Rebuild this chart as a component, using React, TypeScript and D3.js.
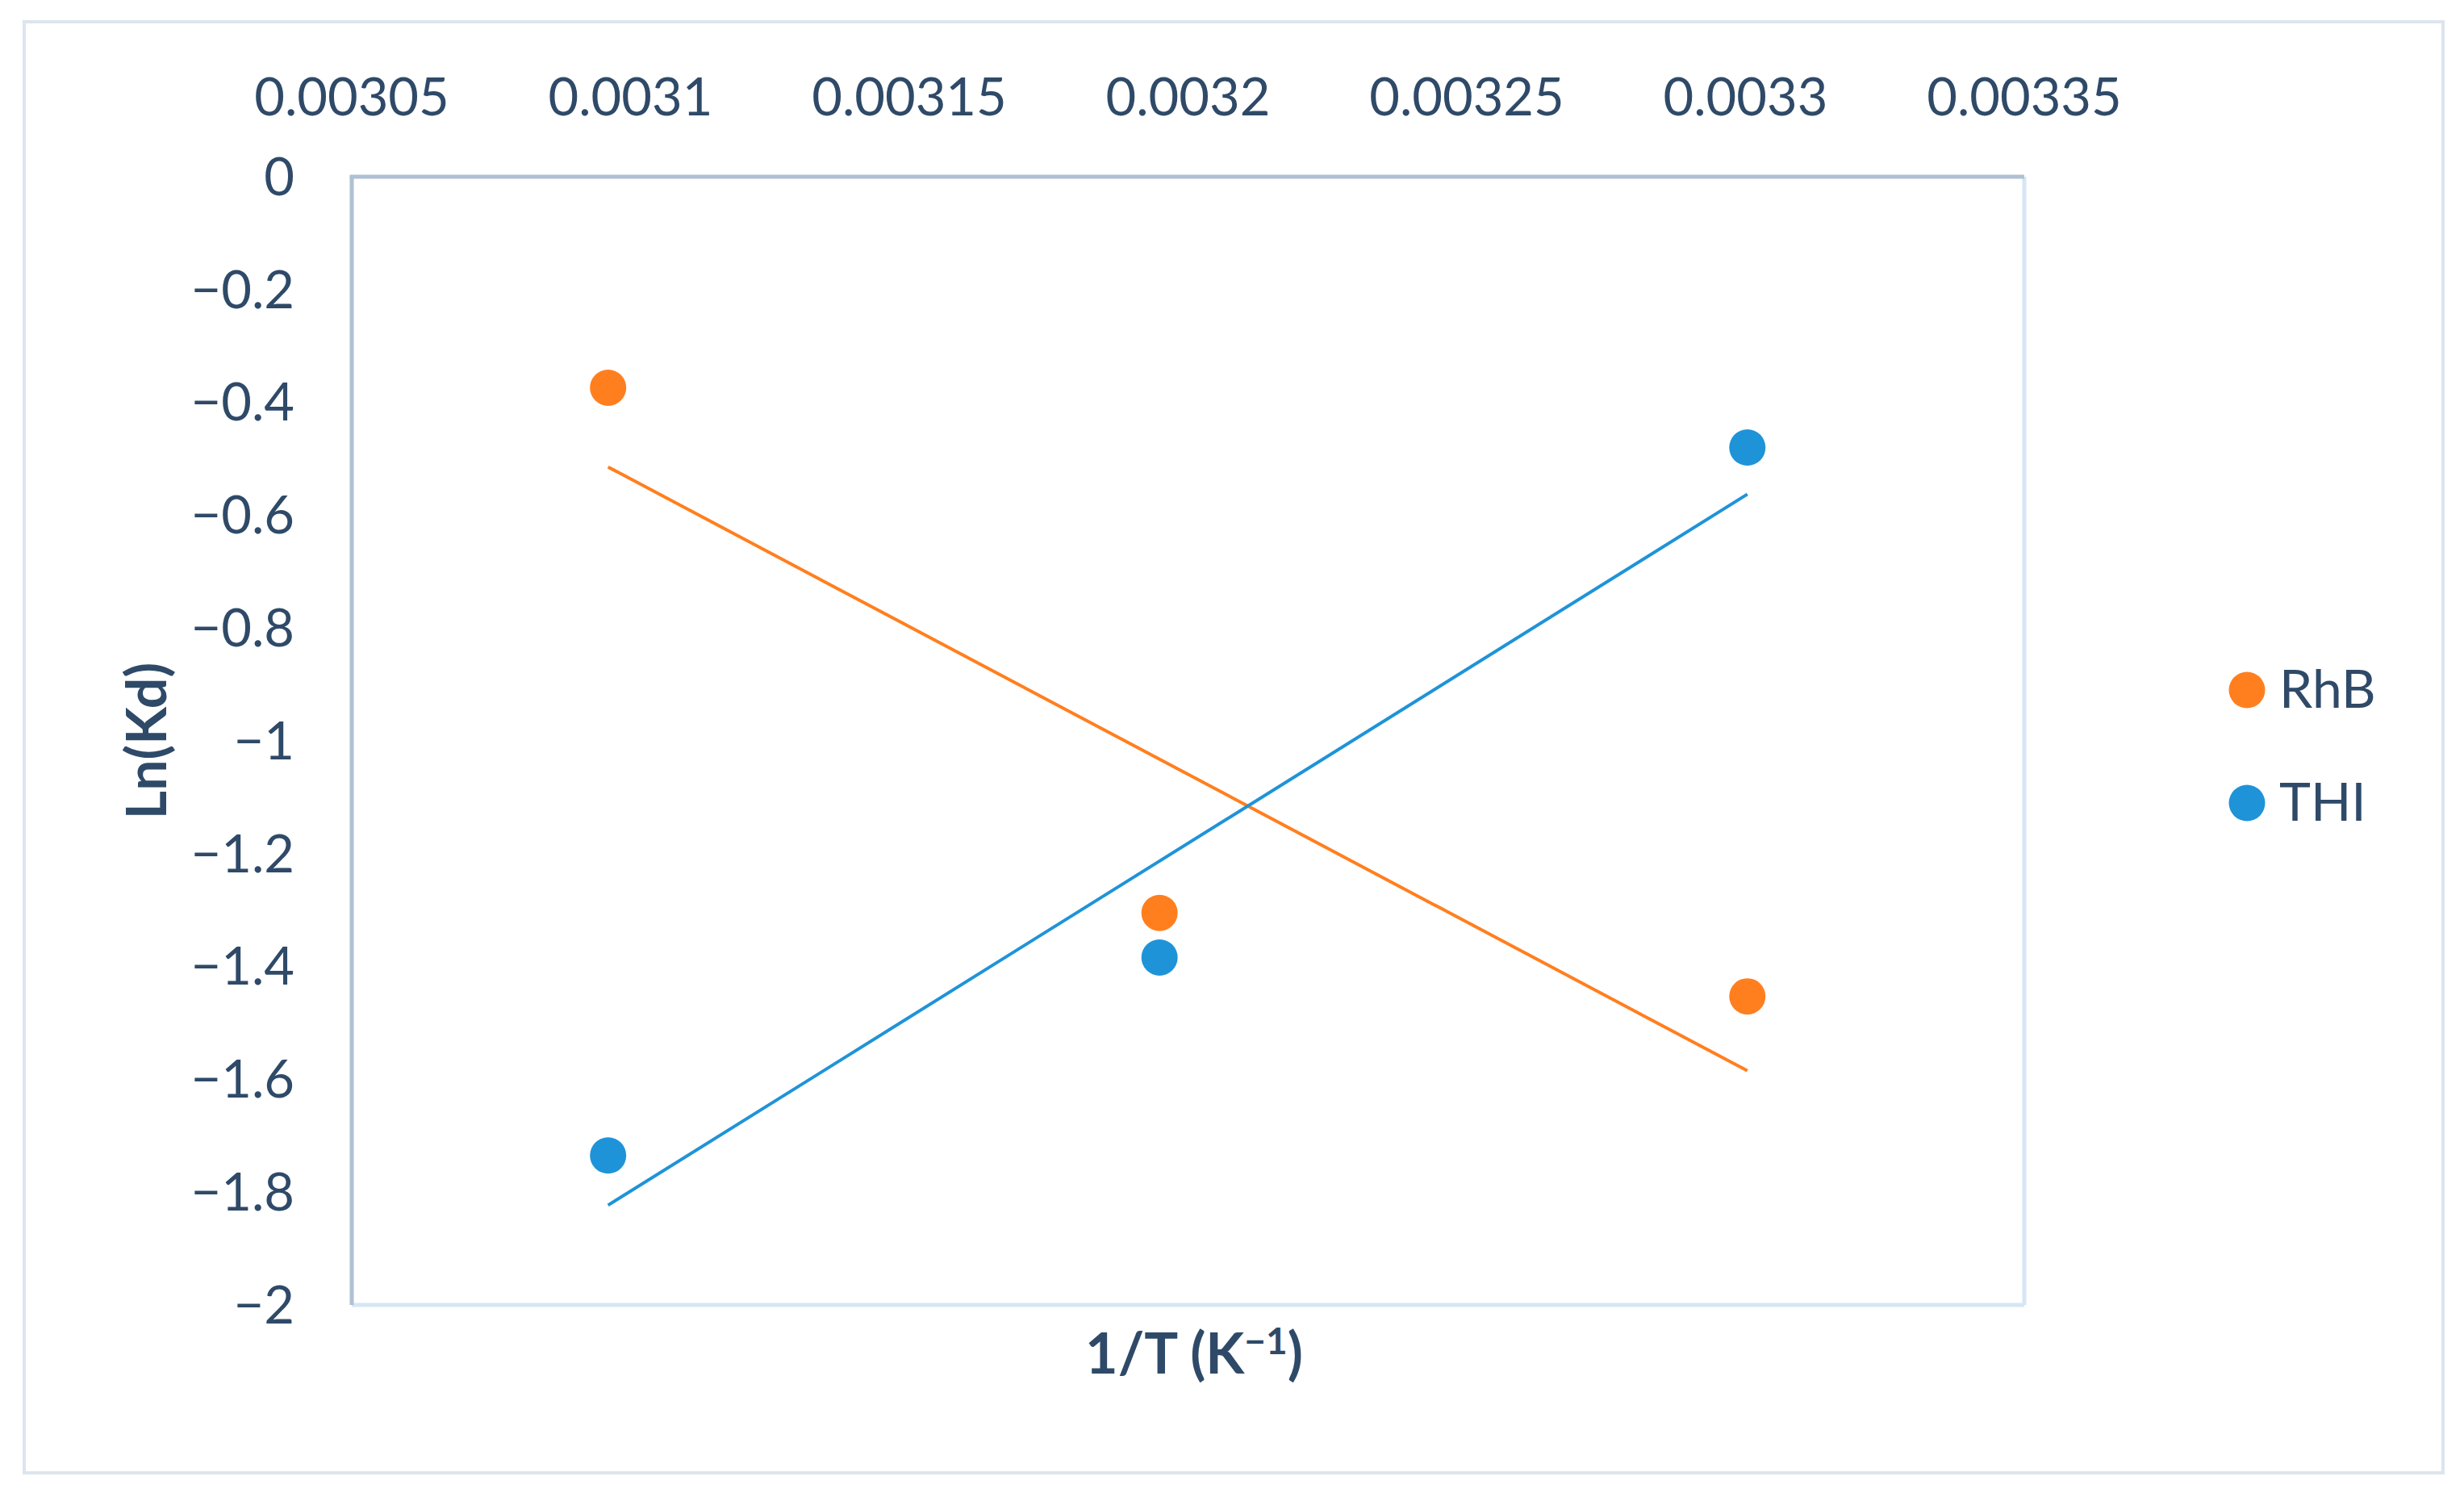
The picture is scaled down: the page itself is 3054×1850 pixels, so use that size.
import React from "react";
import * as d3 from "d3";

const invT = [1 / 323, 1 / 313, 1 / 303];
const rhbValues = [-0.374, -1.305, -1.453];
const thiValues = [-1.735, -1.384, -0.48];
const seriesNames = ["RhB", "THI"];
const seriesColors = ["#ff7f1f", "#1f93d8"];
const xTicks = [0.00305, 0.0031, 0.00315, 0.0032, 0.00325, 0.0033, 0.00335];
const yTicks = [0, -0.2, -0.4, -0.6, -0.8, -1, -1.2, -1.4, -1.6, -1.8, -2];

const W = 3054;
const H = 1850;
const plot = { left: 436, top: 219, right: 2509, bottom: 1617 };
const textColor = "#2f4a68";
const font = "Lato, 'Open Sans', sans-serif";

function fit(xs: number[], ys: number[]) {
  const mx = d3.mean(xs) as number;
  const my = d3.mean(ys) as number;
  let sxy = 0;
  let sxx = 0;
  xs.forEach((x, i) => {
    sxy += (x - mx) * (ys[i] - my);
    sxx += (x - mx) * (x - mx);
  });
  const slope = sxy / sxx;
  return (x: number) => my + slope * (x - mx);
}

export default function App() {
  const x = d3.scaleLinear().domain([0.00305, 0.00335]).range([plot.left, plot.right]);
  const y = d3.scaleLinear().domain([0, -2]).range([plot.top, plot.bottom]);
  const fmt = d3.format("~g");
  const series = [rhbValues, thiValues];
  const line = d3
    .line<[number, number]>()
    .x((d) => x(d[0]))
    .y((d) => y(d[1]));
  const xMin = d3.min(invT) as number;
  const xMax = d3.max(invT) as number;

  return (
    <svg
      width={W}
      height={H}
      style={{ position: "absolute", left: 0, top: 0, background: "#fff" }}
      fontFamily={font}
    >
      <rect x={0} y={0} width={W} height={H} fill="#fff" />
      {/* outer border */}
      <rect x={30} y={27} width={2998} height={1798} fill="none" stroke="#dde5ee" strokeWidth={4} />

      {/* plot area borders */}
      <line x1={plot.right} y1={plot.top} x2={plot.right} y2={plot.bottom} stroke="#d6e6f6" strokeWidth={5} />
      <line x1={plot.left} y1={plot.bottom} x2={plot.right} y2={plot.bottom} stroke="#d6e6f6" strokeWidth={5} />
      <line x1={plot.left} y1={plot.top} x2={plot.left} y2={plot.bottom} stroke="#b0c0d4" strokeWidth={5} />
      <line x1={plot.left - 2.5} y1={plot.top} x2={plot.right} y2={plot.top} stroke="#b0c0d4" strokeWidth={5} />

      {/* x ticks (top) */}
      {xTicks.map((t) => (
        <text key={"x" + t} x={x(t)} y={143} textAnchor="middle" fontSize={65} fill={textColor}>
          {fmt(t)}
        </text>
      ))}
      {/* y ticks */}
      {yTicks.map((t) => (
        <text
          key={"y" + t}
          x={365}
          y={y(t)}
          dy="0.35em"
          textAnchor="end"
          fontSize={65}
          fill={textColor}
        >
          {fmt(t)}
        </text>
      ))}

      {/* axis titles */}
      <text
        x={0}
        y={0}
        transform={`translate(206, 918) rotate(-90)`}
        textAnchor="middle"
        fontSize={68}
        fontWeight={700}
        fill={textColor}
      >
        Ln(Kd)
      </text>
      <text x={1480} y={1702} textAnchor="middle" fontSize={70} fontWeight={700} fill={textColor}>
        1/T (K
        <tspan dy={-24} fontSize={46}>
          −1
        </tspan>
        <tspan dy={24}>)</tspan>
      </text>

      {/* trendlines */}
      {series.map((vals, i) => {
        const f = fit(invT, vals);
        const pts: [number, number][] = [
          [xMin, f(xMin)],
          [xMax, f(xMax)],
        ];
        return (
          <path key={"l" + i} d={line(pts) as string} fill="none" stroke={seriesColors[i]} strokeWidth={4} />
        );
      })}

      {/* markers */}
      {series.map((vals, i) =>
        vals.map((v, j) => (
          <circle key={`c${i}-${j}`} cx={x(invT[j])} cy={y(v)} r={22.5} fill={seriesColors[i]} />
        ))
      )}

      {/* legend */}
      {seriesNames.map((name, i) => (
        <g key={"lg" + name} transform={`translate(2785, ${855 + i * 140})`}>
          <circle cx={0} cy={0} r={22.5} fill={seriesColors[i]} />
          <text x={40} y={22} fontSize={66} fill={textColor}>
            {name}
          </text>
        </g>
      ))}
    </svg>
  );
}
